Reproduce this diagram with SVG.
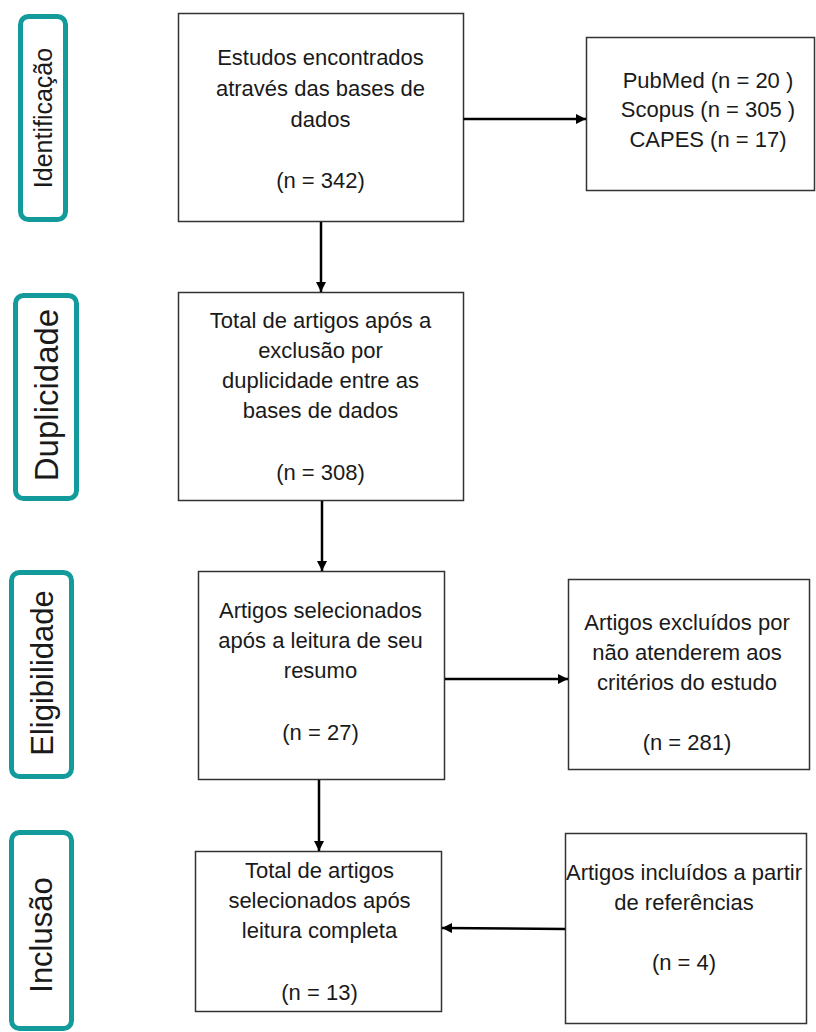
<svg xmlns="http://www.w3.org/2000/svg" width="816" height="1032" viewBox="0 0 816 1032">
<style>
.box{fill:#fff;stroke:#333;stroke-width:1.5}
.stage{fill:#fff;stroke:#139a9a;stroke-width:5}
.t{font-family:"Liberation Sans",Arial,sans-serif;font-size:22px;fill:#1a1a1a;text-anchor:middle}
.s{font-family:"Liberation Sans",Arial,sans-serif;fill:#1a1a1a;text-anchor:middle}
.c{fill:none;stroke:#000;stroke-width:2.5}
</style>
<defs>
<marker id="ah" markerUnits="userSpaceOnUse" markerWidth="10" markerHeight="10" viewBox="0 0 10 10" refX="10" refY="5" orient="auto">
<path d="M0,0 L10,5 L0,10 z" fill="#000"/>
</marker>
</defs>
<rect width="816" height="1032" fill="#fff"/>
<g id="stage-identificacao">
<rect class="stage" x="20.5" y="16.5" width="45" height="203" rx="8"/>
<text class="s" font-size="25" transform="translate(52,118) rotate(-90)">Identificação</text>
</g>
<g id="stage-duplicidade">
<rect class="stage" x="15.5" y="295.5" width="61" height="203" rx="8"/>
<text class="s" font-size="33" transform="translate(58,395) rotate(-90)">Duplicidade</text>
</g>
<g id="stage-eligibilidade">
<rect class="stage" x="11.5" y="572.5" width="60" height="204" rx="8"/>
<text class="s" font-size="31" transform="translate(53,673) rotate(-90)">Eligibilidade</text>
</g>
<g id="stage-inclusao">
<rect class="stage" x="11.5" y="832.5" width="60" height="196" rx="8"/>
<text class="s" font-size="31" transform="translate(52,935) rotate(-90)">Inclusão</text>
</g>
<g id="n-estudos">
<rect class="box" x="178.5" y="13.5" width="285" height="208"/>
<text class="t" x="320.5" y="65">Estudos encontrados</text>
<text class="t" x="320.5" y="96">através das bases de</text>
<text class="t" x="320.5" y="127">dados</text>
<text class="t" x="320.5" y="188">(n = 342)</text>
</g>
<g id="n-bases">
<rect class="box" x="586.5" y="37.5" width="228" height="153"/>
<text class="t" x="708" y="88">PubMed (n = 20 )</text>
<text class="t" x="708" y="117">Scopus (n = 305 )</text>
<text class="t" x="708" y="147">CAPES (n = 17)</text>
</g>
<g id="n-duplicidade">
<rect class="box" x="178.5" y="292.5" width="285" height="208"/>
<text class="t" x="320.5" y="328">Total de artigos após a</text>
<text class="t" x="320.5" y="358">exclusão por</text>
<text class="t" x="320.5" y="388">duplicidade entre as</text>
<text class="t" x="320.5" y="418">bases de dados</text>
<text class="t" x="320.5" y="480">(n = 308)</text>
</g>
<g id="n-resumo">
<rect class="box" x="198.5" y="571.5" width="246" height="208"/>
<text class="t" x="320.5" y="618">Artigos selecionados</text>
<text class="t" x="320.5" y="648">após a leitura de seu</text>
<text class="t" x="320.5" y="678">resumo</text>
<text class="t" x="320.5" y="740">(n = 27)</text>
</g>
<g id="n-excluidos">
<rect class="box" x="568.5" y="579.5" width="241" height="190"/>
<text class="t" x="687" y="630">Artigos excluídos por</text>
<text class="t" x="687" y="660">não atenderem aos</text>
<text class="t" x="687" y="690">critérios do estudo</text>
<text class="t" x="687" y="750">(n = 281)</text>
</g>
<g id="n-completa">
<rect class="box" x="195.5" y="851.5" width="246" height="160"/>
<text class="t" x="319.5" y="878">Total de artigos</text>
<text class="t" x="319.5" y="908">selecionados após</text>
<text class="t" x="319.5" y="938">leitura completa</text>
<text class="t" x="319.5" y="1000">(n = 13)</text>
</g>
<g id="n-referencias">
<rect class="box" x="565.5" y="833.5" width="241" height="190"/>
<text class="t" x="684" y="880">Artigos incluídos a partir</text>
<text class="t" x="684" y="910">de referências</text>
<text class="t" x="684" y="970">(n = 4)</text>
</g>
<g id="connectors">
<line class="c" x1="463.5" y1="119" x2="586" y2="119" marker-end="url(#ah)"/>
<line class="c" x1="321" y1="222" x2="321" y2="292" marker-end="url(#ah)"/>
<line class="c" x1="322" y1="501" x2="322" y2="571" marker-end="url(#ah)"/>
<line class="c" x1="445" y1="679" x2="568" y2="679" marker-end="url(#ah)"/>
<line class="c" x1="319" y1="780" x2="319" y2="851" marker-end="url(#ah)"/>
<line class="c" x1="565" y1="929" x2="442" y2="928" marker-end="url(#ah)"/>
</g>
</svg>
